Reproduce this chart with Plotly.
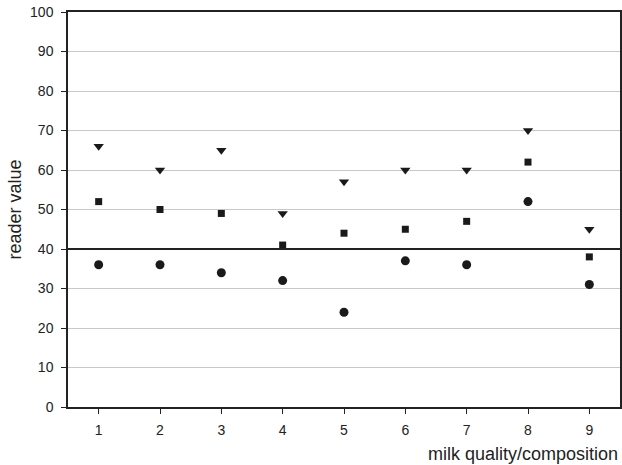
import plotly.graph_objects as go

categories = [1, 2, 3, 4, 5, 6, 7, 8, 9]
triangle_values = [66, 60, 65, 49, 57, 60, 60, 70, 45]
square_values = [52, 50, 49, 41, 44, 45, 47, 62, 38]
circle_values = [36, 36, 34, 32, 24, 37, 36, 52, 31]
threshold = 40
y_ticks = list(range(0, 101, 10))

fig = go.Figure()
fig.add_trace(go.Scatter(x=categories, y=triangle_values, mode="markers",
                         marker=dict(symbol="triangle-down", size=9, color="#1a1a1a"),
                         showlegend=False))
fig.add_trace(go.Scatter(x=categories, y=square_values, mode="markers",
                         marker=dict(symbol="square", size=7, color="#1a1a1a"),
                         showlegend=False))
fig.add_trace(go.Scatter(x=categories, y=circle_values, mode="markers",
                         marker=dict(symbol="circle", size=9, color="#1a1a1a"),
                         showlegend=False))
fig.add_hline(y=threshold, line=dict(color="#222222", width=2))

fig.update_layout(
    width=622, height=465,
    margin=dict(l=68, r=2, t=12, b=58),
    paper_bgcolor="white", plot_bgcolor="white",
    font=dict(family="Liberation Sans, Arial, sans-serif", size=14, color="#222222"),
)
fig.update_xaxes(range=[0.5, 9.5], tickvals=categories, ticks="outside", ticklen=5,
                 tickcolor="#222222", showline=True, linecolor="#222222", linewidth=1.5,
                 mirror=True, showgrid=False, zeroline=False, automargin=False,
                 ticklabelstandoff=4)
fig.update_yaxes(range=[0, 100], tickvals=y_ticks, ticks="outside", ticklen=5,
                 tickcolor="#222222", showline=True, linecolor="#222222", linewidth=1.5,
                 mirror=True, showgrid=True, gridcolor="#c8c8c8", gridwidth=1, zeroline=False,
                 automargin=False, ticklabelstandoff=5,
                 title=dict(text="reader value", font=dict(size=18), standoff=4))

fig.add_annotation(text="milk quality/composition", xref="paper", yref="paper",
                   x=1, y=0, xanchor="right", yanchor="top", yshift=-35, showarrow=False,
                   font=dict(size=18, color="#222222"))

# remove the browser's default 8px body margin so the figure fills the window exactly
fig.write_html("out.html", config={"displayModeBar": False},
               post_script="document.body.style.margin='0';document.body.style.overflow='hidden';")
